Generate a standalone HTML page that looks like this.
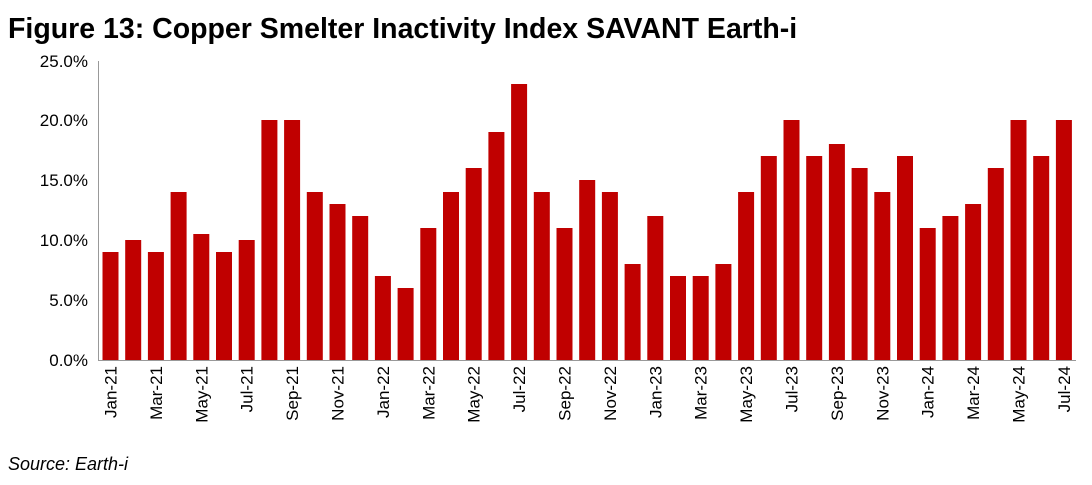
<!DOCTYPE html>
<html><head><meta charset="utf-8"><style>
html,body{margin:0;padding:0;background:#fff;}
svg{display:block;font-family:"Liberation Sans",Arial,sans-serif;}
</style></head><body>
<svg width="1092" height="485" xmlns="http://www.w3.org/2000/svg">
<text x="8" y="38" font-size="28.5" font-weight="bold" fill="#000">Figure 13: Copper Smelter Inactivity Index SAVANT Earth-i</text>
<g font-size="17" fill="#000" text-anchor="end">
<text x="88" y="366">0.0%</text>
<text x="88" y="306">5.0%</text>
<text x="88" y="246">10.0%</text>
<text x="88" y="186">15.0%</text>
<text x="88" y="126">20.0%</text>
<text x="88" y="67">25.0%</text>
</g>
<line x1="98.5" y1="61" x2="98.5" y2="360" stroke="#999" stroke-width="1"/>
<line x1="98" y1="360.5" x2="1076" y2="360.5" stroke="#999" stroke-width="1"/>
<g fill="#c00000">
<rect x="102.5" y="252" width="16" height="108"/>
<rect x="125.2" y="240" width="16" height="120"/>
<rect x="147.9" y="252" width="16" height="108"/>
<rect x="170.6" y="192" width="16" height="168"/>
<rect x="193.3" y="234" width="16" height="126"/>
<rect x="216.0" y="252" width="16" height="108"/>
<rect x="238.7" y="240" width="16" height="120"/>
<rect x="261.4" y="120" width="16" height="240"/>
<rect x="284.1" y="120" width="16" height="240"/>
<rect x="306.8" y="192" width="16" height="168"/>
<rect x="329.5" y="204" width="16" height="156"/>
<rect x="352.2" y="216" width="16" height="144"/>
<rect x="374.9" y="276" width="16" height="84"/>
<rect x="397.6" y="288" width="16" height="72"/>
<rect x="420.3" y="228" width="16" height="132"/>
<rect x="443.0" y="192" width="16" height="168"/>
<rect x="465.7" y="168" width="16" height="192"/>
<rect x="488.4" y="132" width="16" height="228"/>
<rect x="511.1" y="84" width="16" height="276"/>
<rect x="533.8" y="192" width="16" height="168"/>
<rect x="556.5" y="228" width="16" height="132"/>
<rect x="579.2" y="180" width="16" height="180"/>
<rect x="601.9" y="192" width="16" height="168"/>
<rect x="624.6" y="264" width="16" height="96"/>
<rect x="647.3" y="216" width="16" height="144"/>
<rect x="670.0" y="276" width="16" height="84"/>
<rect x="692.7" y="276" width="16" height="84"/>
<rect x="715.4" y="264" width="16" height="96"/>
<rect x="738.1" y="192" width="16" height="168"/>
<rect x="760.8" y="156" width="16" height="204"/>
<rect x="783.5" y="120" width="16" height="240"/>
<rect x="806.2" y="156" width="16" height="204"/>
<rect x="828.9" y="144" width="16" height="216"/>
<rect x="851.6" y="168" width="16" height="192"/>
<rect x="874.3" y="192" width="16" height="168"/>
<rect x="897.0" y="156" width="16" height="204"/>
<rect x="919.7" y="228" width="16" height="132"/>
<rect x="942.4" y="216" width="16" height="144"/>
<rect x="965.1" y="204" width="16" height="156"/>
<rect x="987.8" y="168" width="16" height="192"/>
<rect x="1010.5" y="120" width="16" height="240"/>
<rect x="1033.2" y="156" width="16" height="204"/>
<rect x="1055.9" y="120" width="16" height="240"/>
</g>
<g font-size="17" fill="#000" text-anchor="end">
<text transform="translate(116.5,366) rotate(-90)">Jan-21</text>
<text transform="translate(161.9,366) rotate(-90)">Mar-21</text>
<text transform="translate(207.3,366) rotate(-90)">May-21</text>
<text transform="translate(252.7,366) rotate(-90)">Jul-21</text>
<text transform="translate(298.1,366) rotate(-90)">Sep-21</text>
<text transform="translate(343.5,366) rotate(-90)">Nov-21</text>
<text transform="translate(388.9,366) rotate(-90)">Jan-22</text>
<text transform="translate(434.3,366) rotate(-90)">Mar-22</text>
<text transform="translate(479.7,366) rotate(-90)">May-22</text>
<text transform="translate(525.1,366) rotate(-90)">Jul-22</text>
<text transform="translate(570.5,366) rotate(-90)">Sep-22</text>
<text transform="translate(615.9,366) rotate(-90)">Nov-22</text>
<text transform="translate(661.3,366) rotate(-90)">Jan-23</text>
<text transform="translate(706.7,366) rotate(-90)">Mar-23</text>
<text transform="translate(752.1,366) rotate(-90)">May-23</text>
<text transform="translate(797.5,366) rotate(-90)">Jul-23</text>
<text transform="translate(842.9,366) rotate(-90)">Sep-23</text>
<text transform="translate(888.3,366) rotate(-90)">Nov-23</text>
<text transform="translate(933.7,366) rotate(-90)">Jan-24</text>
<text transform="translate(979.1,366) rotate(-90)">Mar-24</text>
<text transform="translate(1024.5,366) rotate(-90)">May-24</text>
<text transform="translate(1069.9,366) rotate(-90)">Jul-24</text>
</g>
<text x="8" y="470" font-size="18" font-style="italic" fill="#000">Source: Earth-i</text>
</svg>
</body></html>
